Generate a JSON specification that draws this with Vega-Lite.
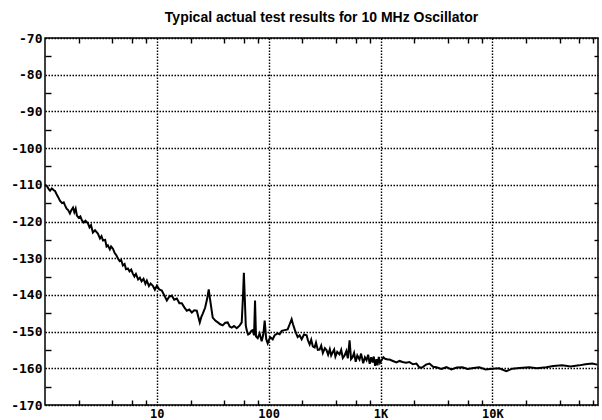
{
"$schema": "https://vega.github.io/schema/vega-lite/v6.json",
"width": 553, "height": 367,
"autosize": "none",
"padding": {"left": 45, "top": 38, "right": 4, "bottom": 15},
"background": "white",
"title": {"text": "Typical actual test results for 10 MHz Oscillator", "font": "Liberation Sans", "fontSize": 14, "fontWeight": "bold", "color": "black", "offset": 7, "anchor": "middle"},
"config": {"view": {"stroke": "black", "strokeWidth": 1.5}, "axis": {"domain": false, "title": null, "labelColor": "black", "tickColor": "black", "labelFont": "DejaVu Sans Mono", "labelFontWeight": "bold", "labelFontSize": 13, "labelFlush": false, "labelOverlap": false}},
"data": {"values": [
{"f":1.00,"db":-110.0},{"f":1.04,"db":-110.3},{"f":1.08,"db":-111.2},{"f":1.11,"db":-111.6},{"f":1.15,"db":-111.0},{"f":1.20,"db":-111.5},{"f":1.23,"db":-111.7},{"f":1.28,"db":-112.8},{"f":1.32,"db":-113.5},{"f":1.36,"db":-114.3},{"f":1.42,"db":-115.0},{"f":1.47,"db":-114.8},{"f":1.51,"db":-115.6},{"f":1.56,"db":-116.5},{"f":1.61,"db":-116.9},{"f":1.67,"db":-117.8},{"f":1.72,"db":-116.9},{"f":1.78,"db":-116.2},{"f":1.83,"db":-117.5},{"f":1.88,"db":-116.5},{"f":1.93,"db":-118.4},{"f":2.00,"db":-119.0},{"f":2.07,"db":-118.6},{"f":2.14,"db":-119.7},{"f":2.22,"db":-120.3},{"f":2.30,"db":-119.8},{"f":2.42,"db":-120.5},{"f":2.50,"db":-121.6},{"f":2.58,"db":-121.0},{"f":2.68,"db":-123.0},{"f":2.80,"db":-122.4},{"f":2.97,"db":-123.3},{"f":3.10,"db":-124.6},{"f":3.20,"db":-124.0},{"f":3.30,"db":-125.2},{"f":3.45,"db":-125.0},{"f":3.55,"db":-126.8},{"f":3.65,"db":-126.5},{"f":3.80,"db":-127.6},{"f":3.90,"db":-126.8},{"f":4.05,"db":-127.4},{"f":4.20,"db":-128.6},{"f":4.35,"db":-129.2},{"f":4.49,"db":-130.1},{"f":4.65,"db":-130.8},{"f":4.80,"db":-130.5},{"f":4.97,"db":-132.0},{"f":5.15,"db":-131.6},{"f":5.30,"db":-133.0},{"f":5.51,"db":-132.8},{"f":5.70,"db":-133.6},{"f":5.90,"db":-133.1},{"f":6.10,"db":-134.2},{"f":6.30,"db":-135.0},{"f":6.50,"db":-134.3},{"f":6.80,"db":-135.8},{"f":7.05,"db":-135.3},{"f":7.30,"db":-136.3},{"f":7.60,"db":-135.6},{"f":7.90,"db":-137.0},{"f":8.14,"db":-136.1},{"f":8.50,"db":-137.6},{"f":8.80,"db":-136.9},{"f":9.21,"db":-137.5},{"f":9.60,"db":-138.6},{"f":10.0,"db":-137.5},{"f":10.5,"db":-138.5},{"f":11.08,"db":-138.8},{"f":11.6,"db":-140.0},{"f":12.28,"db":-141.5},{"f":12.9,"db":-140.5},{"f":13.61,"db":-140.2},{"f":14.3,"db":-141.3},{"f":15.09,"db":-141.0},{"f":15.9,"db":-142.3},{"f":16.72,"db":-142.3},{"f":17.6,"db":-143.4},{"f":18.53,"db":-144.3},{"f":19.5,"db":-144.0},{"f":20.54,"db":-144.8},{"f":21.6,"db":-144.2},{"f":22.76,"db":-144.3},{"f":23.5,"db":-146.0},{"f":24.2,"db":-147.5},{"f":25.0,"db":-146.0},{"f":25.75,"db":-145.1},{"f":27.0,"db":-143.5},{"f":28.2,"db":-141.0},{"f":29.1,"db":-138.5},{"f":30.0,"db":-141.5},{"f":31.6,"db":-146.2},{"f":33.3,"db":-147.0},{"f":35.1,"db":-147.5},{"f":36.9,"db":-148.0},{"f":38.8,"db":-148.3},{"f":40.9,"db":-147.6},{"f":43.0,"db":-147.5},{"f":44.8,"db":-148.6},{"f":46.7,"db":-148.9},{"f":49.0,"db":-148.5},{"f":51.8,"db":-149.1},{"f":53.5,"db":-148.7},{"f":55.1,"db":-148.3},{"f":57.4,"db":-147.5},{"f":59.0,"db":-140.0},{"f":60.0,"db":-134.0},{"f":61.0,"db":-140.0},{"f":62.4,"db":-148.3},{"f":63.6,"db":-149.6},{"f":65.5,"db":-150.8},{"f":67.7,"db":-150.5},{"f":70.0,"db":-149.8},{"f":72.0,"db":-149.6},{"f":74.0,"db":-151.0},{"f":75.5,"db":-141.5},{"f":77.0,"db":-151.3},{"f":79.8,"db":-151.8},{"f":83.0,"db":-150.5},{"f":86.6,"db":-152.6},{"f":89.5,"db":-150.8},{"f":92.1,"db":-147.0},{"f":95.0,"db":-152.0},{"f":98.0,"db":-153.2},{"f":103,"db":-151.5},{"f":108.6,"db":-152.1},{"f":113.2,"db":-151.0},{"f":120.3,"db":-150.5},{"f":125.3,"db":-150.7},{"f":131,"db":-149.8},{"f":138.9,"db":-149.6},{"f":147.8,"db":-149.4},{"f":154,"db":-148.0},{"f":160.4,"db":-146.6},{"f":165,"db":-148.0},{"f":170.7,"db":-149.4},{"f":176,"db":-150.5},{"f":181.6,"db":-151.5},{"f":189,"db":-151.0},{"f":197.2,"db":-152.1},{"f":207,"db":-150.8},{"f":218.4,"db":-151.0},{"f":225,"db":-152.5},{"f":232.4,"db":-153.5},{"f":240,"db":-152.2},{"f":248,"db":-154.0},{"f":257.6,"db":-154.3},{"f":265,"db":-153.0},{"f":275,"db":-155.0},{"f":285.3,"db":-154.9},{"f":295,"db":-153.8},{"f":305,"db":-155.8},{"f":318,"db":-154.5},{"f":329.4,"db":-155.1},{"f":340,"db":-156.3},{"f":352,"db":-154.8},{"f":362,"db":-156.5},{"f":372.6,"db":-155.7},{"f":385,"db":-154.9},{"f":395,"db":-156.8},{"f":410,"db":-155.5},{"f":430,"db":-156.2},{"f":445,"db":-155.0},{"f":460,"db":-157.2},{"f":477,"db":-156.5},{"f":495,"db":-155.3},{"f":510,"db":-157.3},{"f":528.8,"db":-152.4},{"f":545,"db":-157.5},{"f":562,"db":-157.0},{"f":580,"db":-155.8},{"f":600,"db":-158.2},{"f":620,"db":-156.5},{"f":649,"db":-157.6},{"f":670,"db":-156.0},{"f":700,"db":-158.6},{"f":725,"db":-157.0},{"f":750,"db":-157.8},{"f":775,"db":-156.3},{"f":800,"db":-158.8},{"f":825,"db":-157.0},{"f":849,"db":-158.4},{"f":870,"db":-156.8},{"f":895,"db":-159.3},{"f":920,"db":-157.5},{"f":940,"db":-159.2},{"f":965,"db":-156.9},{"f":990,"db":-158.5},{"f":1021,"db":-157.8},{"f":1060,"db":-157.0},{"f":1100,"db":-157.4},{"f":1155,"db":-157.6},{"f":1203,"db":-157.6},{"f":1290,"db":-158.0},{"f":1389,"db":-158.4},{"f":1480,"db":-158.0},{"f":1572,"db":-158.3},{"f":1690,"db":-158.5},{"f":1815,"db":-158.3},{"f":1950,"db":-158.9},{"f":2096,"db":-158.7},{"f":2230,"db":-159.8},{"f":2371,"db":-159.7},{"f":2550,"db":-159.0},{"f":2738,"db":-158.7},{"f":2950,"db":-159.6},{"f":3162,"db":-159.7},{"f":3500,"db":-160.2},{"f":3882,"db":-159.7},{"f":4300,"db":-160.3},{"f":4800,"db":-159.8},{"f":5395,"db":-159.7},{"f":6000,"db":-160.2},{"f":6800,"db":-159.9},{"f":7648,"db":-159.7},{"f":8700,"db":-160.3},{"f":10000,"db":-160.1},{"f":11500,"db":-160.0},{"f":13335,"db":-160.8},{"f":15090,"db":-160.1},{"f":17500,"db":-159.9},{"f":21400,"db":-159.7},{"f":25000,"db":-160.0},{"f":30360,"db":-159.7},{"f":35000,"db":-159.4},{"f":42170,"db":-159.2},{"f":50000,"db":-159.5},{"f":59800,"db":-159.2},{"f":68000,"db":-158.9},{"f":78200,"db":-158.7},{"f":86700,"db":-159.0}
]},
"resolve": {"axis": {"x": "independent", "y": "independent"}},
"layer": [
{"mark": {"type": "line", "color": "black", "strokeWidth": 2},
 "encoding": {
  "x": {"field": "f", "type": "quantitative", "scale": {"type": "log", "domain": [1, 88000], "nice": false},
        "axis": {"orient": "bottom", "values": [10, 100, 1000, 10000], "ticks": false, "grid": true, "gridColor": "black", "gridDash": [1.5, 1.5], "gridWidth": 1.4, "labelPadding": 3, "labelFontSize": 12,
                 "labelExpr": "datum.value >= 1000 ? (datum.value/1000) + 'K' : '' + datum.value"}},
  "y": {"field": "db", "type": "quantitative", "scale": {"domain": [-170, -70], "nice": false, "zero": false},
        "axis": {"orient": "left", "values": [-170, -160, -150, -140, -130, -120, -110, -100, -90, -80, -70], "ticks": false, "grid": true, "gridColor": "black", "gridDash": [1.5, 1.5], "gridWidth": 1.4, "labelPadding": 3,
                 "labelExpr": "'' + datum.value"}}
 }},
{"mark": {"type": "line", "strokeOpacity": 0},
 "encoding": {
  "x": {"field": "f", "type": "quantitative", "axis": {"orient": "bottom", "values": [2,4,6,8,20,40,60,80,200,400,600,800,2000,4000,6000,8000,20000,40000,60000,80000], "labels": false, "grid": false, "ticks": true, "tickSize": -5, "tickWidth": 1.4}},
  "y": {"field": "db", "type": "quantitative", "axis": {"orient": "left", "values": [-165,-155,-145,-135,-125,-115,-105,-95,-85,-75], "labels": false, "grid": false, "ticks": true, "tickSize": -6, "tickWidth": 1.4}}
 }},
{"mark": {"type": "line", "strokeOpacity": 0},
 "encoding": {
  "x": {"field": "f", "type": "quantitative", "axis": {"orient": "top", "values": [2,4,6,8,20,40,60,80,200,400,600,800,2000,4000,6000,8000,20000,40000,60000,80000], "labels": false, "grid": false, "ticks": true, "tickSize": -5, "tickWidth": 1.4}},
  "y": {"field": "db", "type": "quantitative", "axis": {"orient": "right", "values": [-165,-155,-145,-135,-125,-115,-105,-95,-85,-75], "labels": false, "grid": false, "ticks": true, "tickSize": -4, "tickWidth": 1.4}}
 }}
]
}
